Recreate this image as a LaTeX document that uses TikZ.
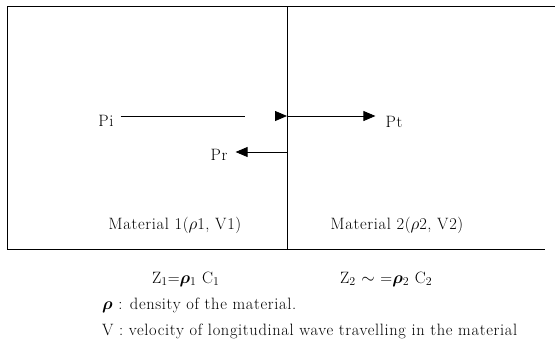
\documentclass[tikz,border=0pt]{standalone}
\usepackage{fontspec}
\setmainfont{Latin Modern Roman}[LetterSpace=4]
\usepackage{bm}
\usetikzlibrary{arrows.meta}
\begin{document}
\begin{tikzpicture}[x=1bp,y=-1bp,
  lbl/.style={font=\fontsize{16.5}{19}\selectfont, inner sep=0pt},
  frame/.style={line width=0.8pt},
  wave/.style={line width=0.8pt, -{Triangle[length=12bp,width=10bp]}}]
\useasboundingbox (0,0) rectangle (555,347);
% frame
\coordinate (tl) at (7,6);
\coordinate (tr) at (555,6);
\coordinate (bl) at (7,249);
\coordinate (br) at (545,249);
\coordinate (mt) at (287,6);
\coordinate (mb) at (287,249);
\draw[frame] (tr) -- (tl) -- (bl) -- (br);
\draw[frame] (mt) -- (mb);
% wave labels
\node[lbl] (Pi) at (106,121) {Pi};
\node[lbl] (Pt) at (394,122) {Pt};
\node[lbl] (Pr) at (219,155) {Pr};
\coordinate (i1) at (287,116);
\coordinate (t0) at (288,116);
\coordinate (r0) at (287,152);
\draw[wave, shorten <=7bp, dash pattern=on 124bp off 60bp] (Pi.east |- i1) -- (i1);
\draw[wave, shorten >=10bp] (t0) -- (Pt.west |- t0);
\draw[wave, shorten >=8bp] (r0) -- (Pr.east |- r0);
% material labels
\node[lbl] (m1) at (175,225) {Material 1($\rho$1, V1)};
\node[lbl] (m2) at (397,225) {Material 2($\rho$2, V2)};
% notes
\node[lbl, anchor=west] (z1) at (152,279) {Z$_1$=$\bm{\rho}_1$ C$_1$};
\node[lbl, anchor=west] (z2) at (340,279) {Z$_2$ $\sim$ =$\bm{\rho}_2$ C$_2$};
\node[lbl, anchor=west] (n1) at (102,305) {$\bm{\rho}$ : density of the material.};
\node[lbl, anchor=west] (n2) at (102,331) {V : velocity of longitudinal wave travelling in the material};
\end{tikzpicture}
\end{document}
